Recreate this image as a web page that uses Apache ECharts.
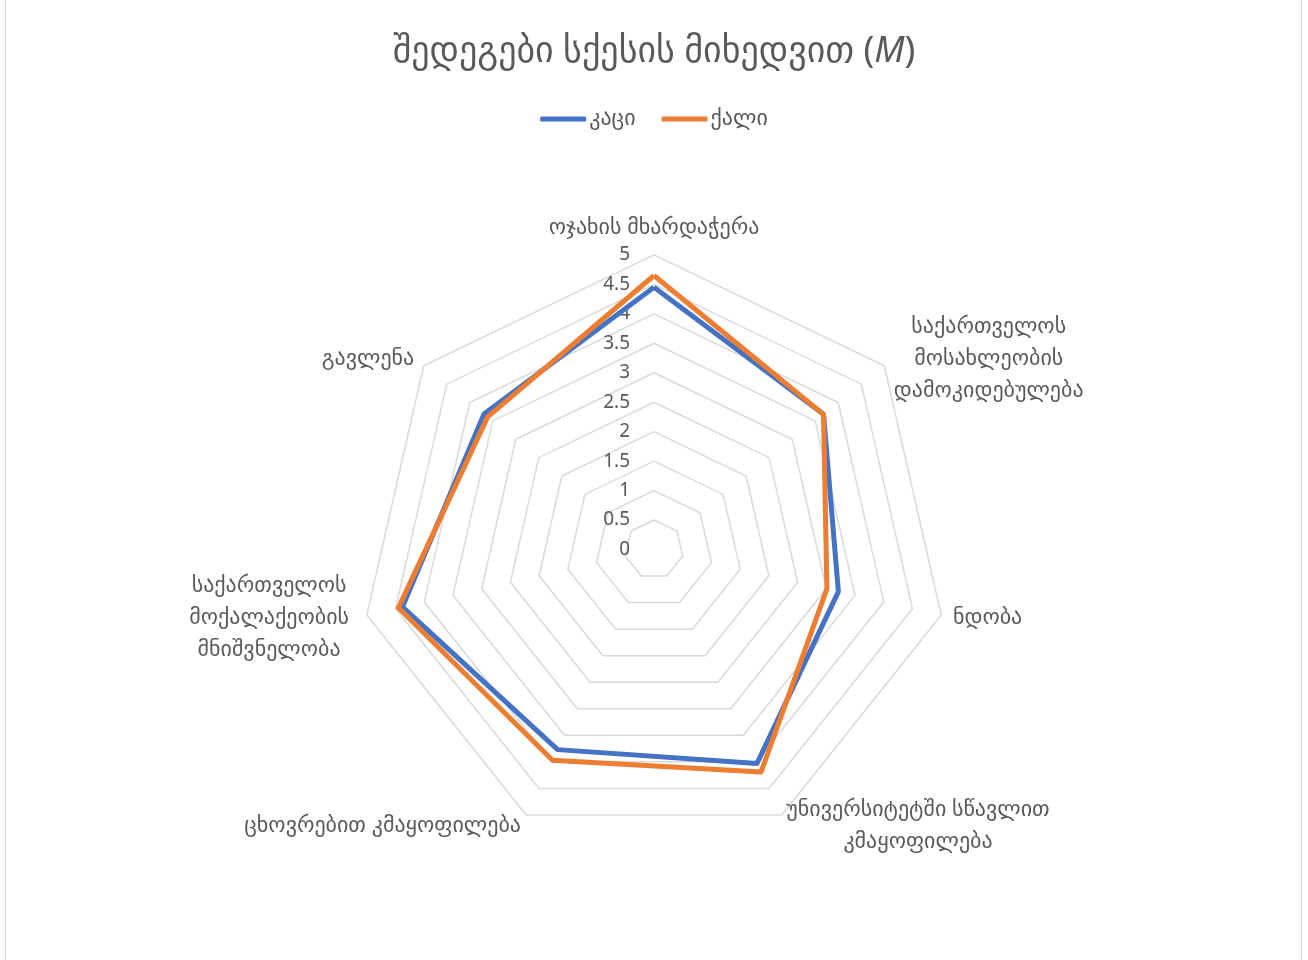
<!DOCTYPE html>
<html>
<head>
    <meta charset="utf-8">
    <script src="https://cdn.jsdelivr.net/npm/echarts@6/dist/echarts.min.js"></script>
    <style type="text/css">
        html, body { width: 100%; height: 100%; margin: 0; background: #fff; }
        #chart { width: 1308px; height: 960px; }
    </style>
</head>
<body>
<div id="chart"></div>
<script type="text/javascript">
    // მონაცემები (საათის ისრის მიმართულებით, ზემოდან)
    var categories = [
        'ოჯახის მხარდაჭერა',
        'საქართველოს\nმოსახლეობის\nდამოკიდებულება',
        'ნდობა',
        'უნივერსიტეტში სწავლით\nკმაყოფილება',
        'ცხოვრებით კმაყოფილება',
        'საქართველოს\nმოქალაქეობის\nმნიშვნელობა',
        'გავლენა'
    ];
    var seriesNames = ['კაცი', 'ქალი'];
    var maleValues = [4.45, 3.68, 3.21, 4.03, 3.77, 4.38, 3.69];
    var femaleValues = [4.65, 3.68, 3.01, 4.19, 3.97, 4.45, 3.61];
    var tickValues = ['0', '0.5', '1', '1.5', '2', '2.5', '3', '3.5', '4', '4.5', '5'];
    var axisMax = 5;

    var cx = 654, cy = 549.5, R = 294.6;
    var txt = "'Noto Sans', 'DejaVu Sans', sans-serif";
    var nameStyle = ['t', 'w2', 'n', 'w4', 'n', 'w6', 'n'];

    // echarts radar goes counter-clockwise, excel goes clockwise
    function cw(arr) {
        return [arr[0]].concat(arr.slice(1).reverse());
    }

    var chart = echarts.init(document.getElementById('chart'));
    chart.setOption({
        backgroundColor: '#fff',
        animation: false,
        color: ['#4472C4', '#ED7D31'],
        title: {
            text: '{a|შედეგები სქესის მიხედვით (}{b|M}{a|)}',
            left: 'center',
            top: 29,
            textStyle: {
                fontWeight: 'normal',
                rich: {
                    a: { fontFamily: txt, fontSize: 36, fontWeight: 'normal', color: '#595959' },
                    b: { fontFamily: txt, fontSize: 36, fontWeight: 'normal', color: '#595959', fontStyle: 'italic' }
                }
            }
        },
        legend: {
            data: seriesNames,
            top: 103,
            left: 'center',
            icon: 'roundRect',
            itemWidth: 46,
            itemHeight: 5,
            itemGap: 26,
            textStyle: { fontFamily: txt, fontSize: 22, color: '#595959', padding: [0, 0, 0, -2] }
        },
        grid: { left: 632, top: cy - R, height: R, width: 40 },
        xAxis: { type: 'value', show: false },
        yAxis: {
            type: 'category',
            data: tickValues,
            boundaryGap: false,
            axisLine: { show: false },
            axisTick: { show: false },
            splitLine: { show: false },
            axisLabel: { margin: 2, fontFamily: txt, fontSize: 19, color: '#595959' }
        },
        radar: {
            center: [cx, cy],
            radius: R,
            startAngle: 90,
            shape: 'polygon',
            splitNumber: 10,
            nameGap: 12,
            indicator: cw(categories).map(function (c) { return { name: c, max: axisMax, min: 0 }; }),
            axisName: {
                formatter: function (name) {
                    var i = categories.indexOf(name);
                    return '{' + nameStyle[i] + '|' + name + '}';
                },
                rich: {
                    t: { fontFamily: txt, fontSize: 22, color: '#595959', padding: [0, 0, 4, 0] },
                    n: { fontFamily: txt, fontSize: 22, color: '#595959', lineHeight: 32 },
                    w2: { fontFamily: txt, fontSize: 22, color: '#595959', lineHeight: 32, width: 190, align: 'center' },
                    w4: { fontFamily: txt, fontSize: 22, color: '#595959', lineHeight: 32, width: 262, align: 'center' },
                    w6: { fontFamily: txt, fontSize: 22, color: '#595959', lineHeight: 32, width: 160, align: 'center', padding: [0, 6, 0, 0] }
                }
            },
            axisLine: { show: false },
            axisTick: { show: false },
            axisLabel: { show: false },
            splitArea: { show: false },
            splitLine: { lineStyle: { color: '#D9D9D9', width: 1.5 } }
        },
        graphic: [{
            type: 'rect',
            shape: { x: 5.5, y: -1, width: 1296, height: 1000 },
            style: { fill: 'none', stroke: '#D9D9D9', lineWidth: 1 },
            silent: true
        }],
        series: [{
            type: 'radar',
            symbol: 'none',
            lineStyle: { width: 5, join: 'round' },
            data: [
                { name: seriesNames[0], value: cw(maleValues), lineStyle: { color: '#4472C4', width: 5 }, itemStyle: { color: '#4472C4' } },
                { name: seriesNames[1], value: cw(femaleValues), lineStyle: { color: '#ED7D31', width: 5 }, itemStyle: { color: '#ED7D31' } }
            ]
        }]
    });
</script>
</body>
</html>
